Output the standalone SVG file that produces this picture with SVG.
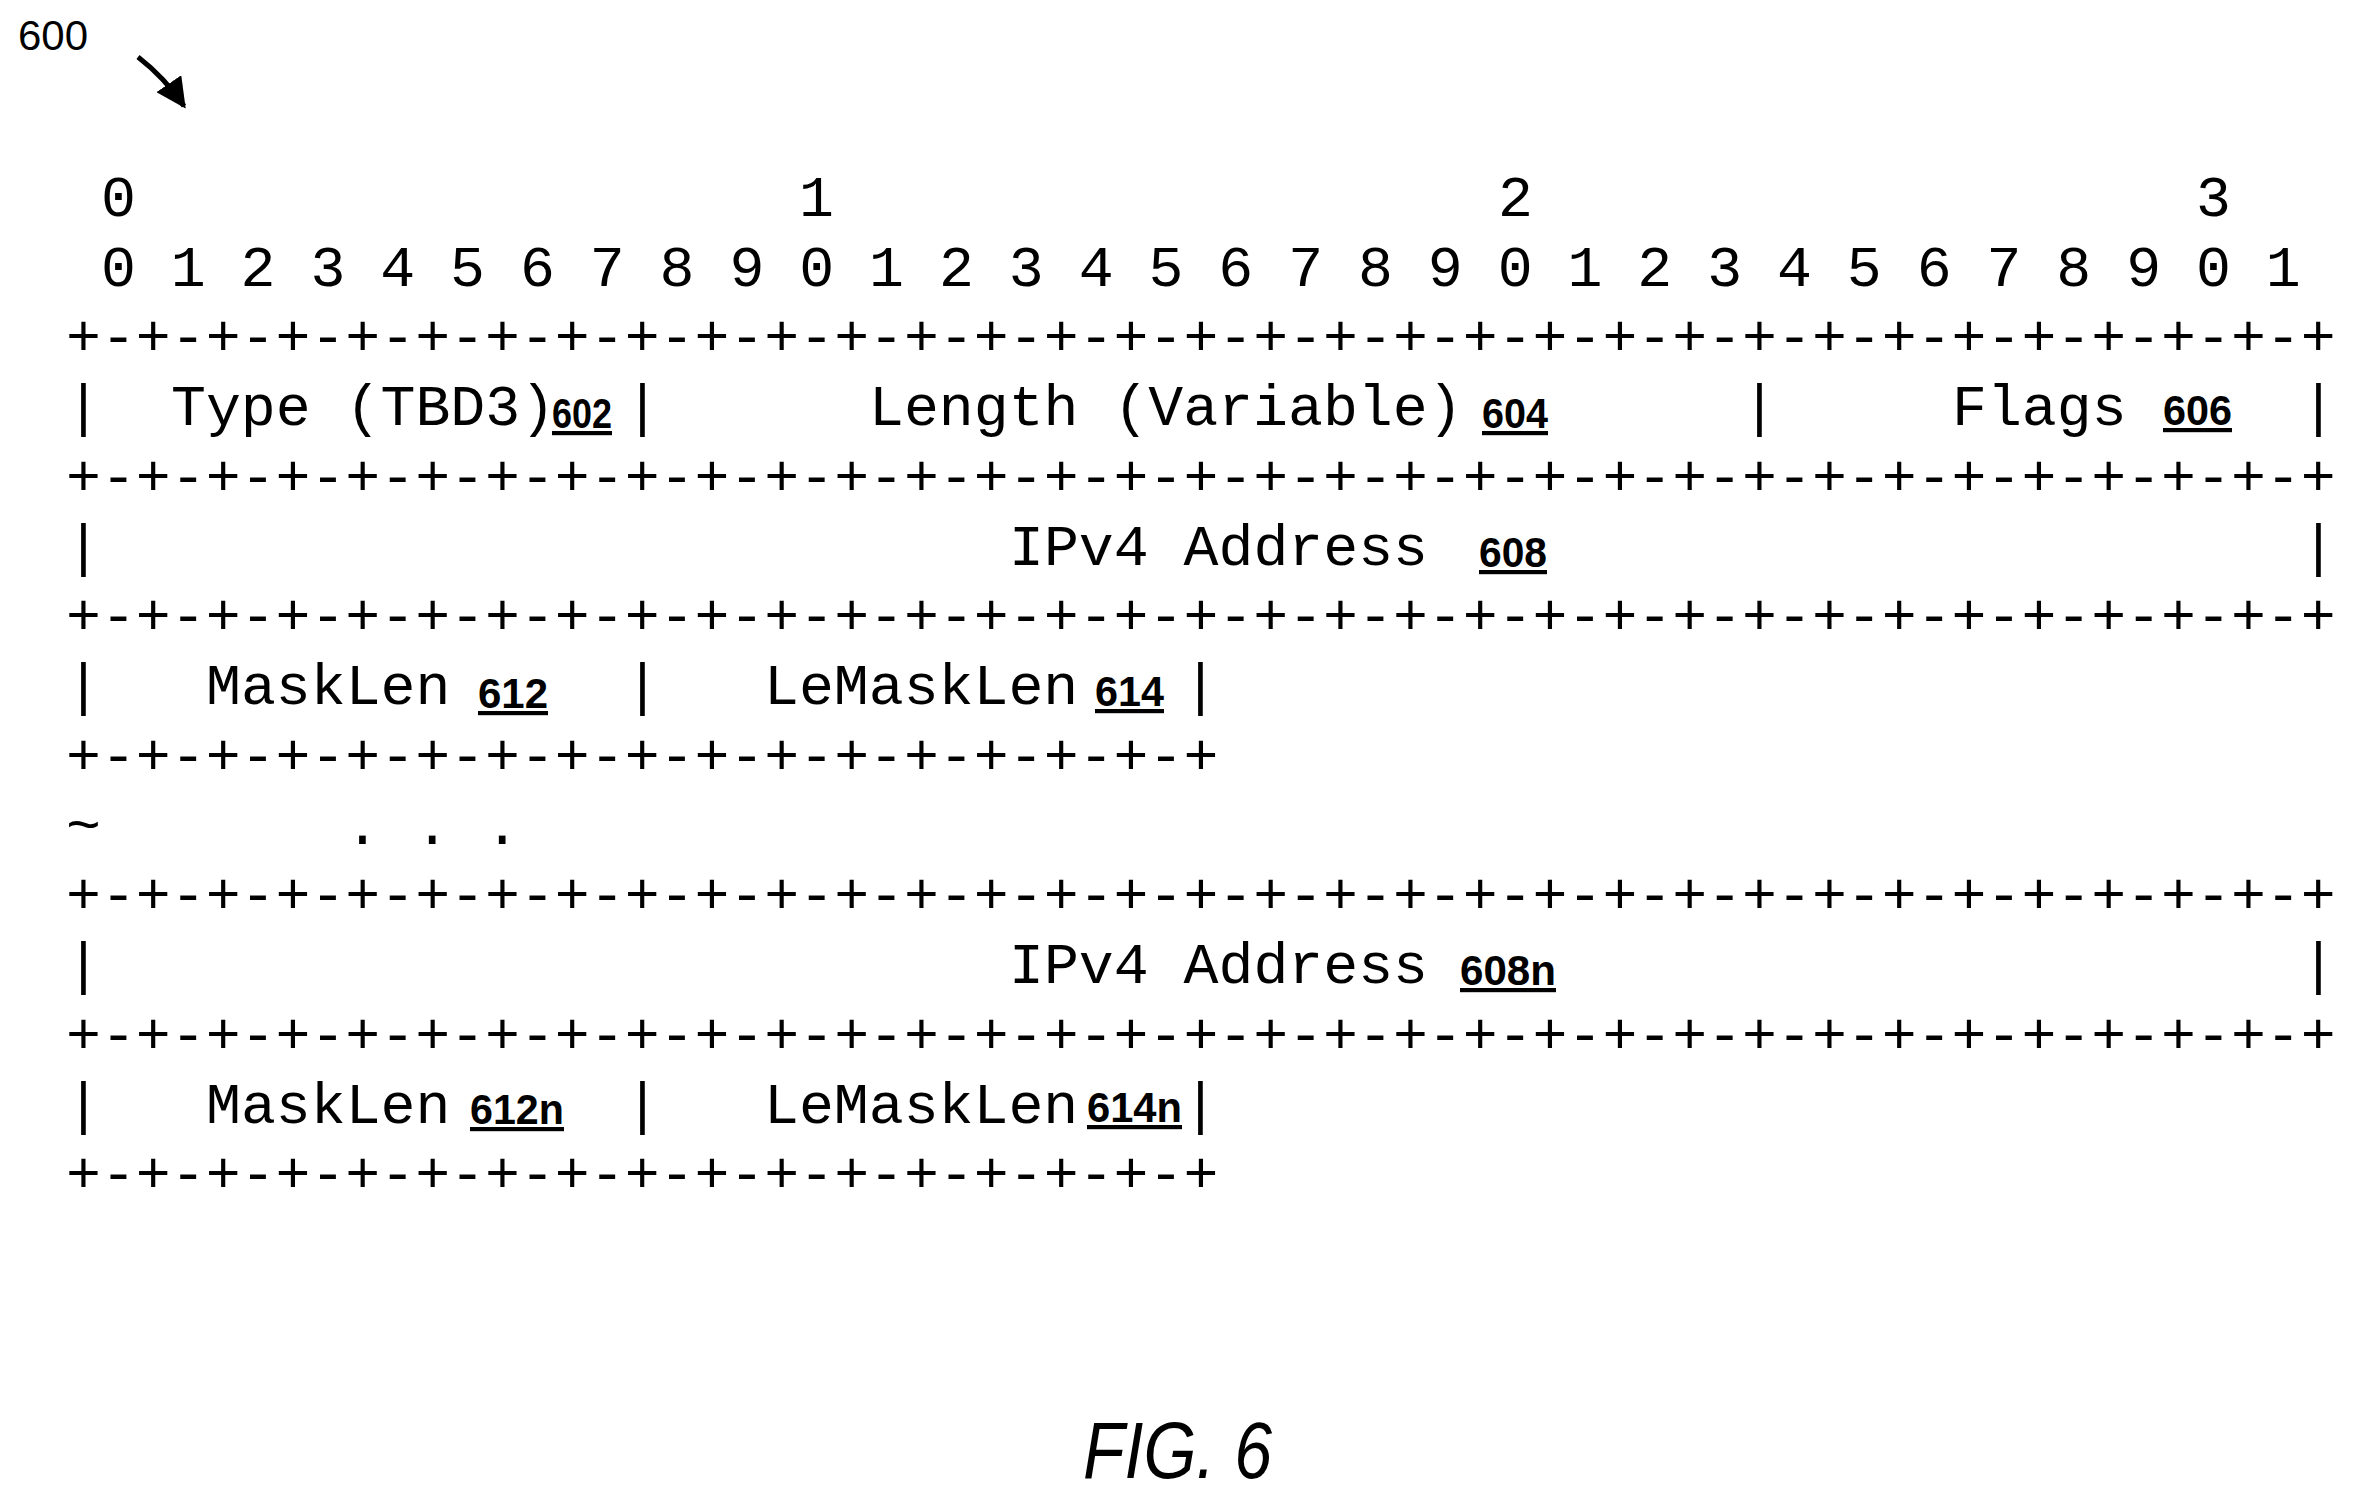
<svg xmlns="http://www.w3.org/2000/svg" width="2353" height="1501" viewBox="0 0 2353 1501">
<style>
.m{font-family:"Liberation Mono","Courier New",monospace;font-size:58.2px;fill:#000;white-space:pre}
.r{font-family:"Liberation Sans",Arial,sans-serif;font-weight:bold;font-size:42px;fill:#000;text-decoration:underline}
.t{font-family:"Liberation Sans",Arial,sans-serif;fill:#000}
</style>
<defs><marker id="ah" viewBox="0 0 10 10" refX="9" refY="5" markerWidth="6" markerHeight="6" orient="auto"><path d="M0,0L10,5L0,10z" fill="#000"/></marker></defs>
<rect width="2353" height="1501" fill="#fff"/>
<g id="ref600"><text class="t" x="18" y="50" font-size="42">600</text></g>
<g id="connectors"><path d="M138,57 Q165,78 184,106" fill="none" stroke="#000" stroke-width="5" marker-end="url(#ah)"/></g>
<g id="ruler">
<text class="m" x="101" y="216">0</text><text class="m" x="799" y="216">1</text><text class="m" x="1498" y="216">2</text><text class="m" x="2196" y="216">3</text>
<text class="m" x="66" y="286" xml:space="preserve"> 0 1 2 3 4 5 6 7 8 9 0 1 2 3 4 5 6 7 8 9 0 1 2 3 4 5 6 7 8 9 0 1</text>
</g>
<g id="borders">
<text class="m" x="66" y="355">+-+-+-+-+-+-+-+-+-+-+-+-+-+-+-+-+-+-+-+-+-+-+-+-+-+-+-+-+-+-+-+-+</text>
<text class="m" x="66" y="495">+-+-+-+-+-+-+-+-+-+-+-+-+-+-+-+-+-+-+-+-+-+-+-+-+-+-+-+-+-+-+-+-+</text>
<text class="m" x="66" y="634">+-+-+-+-+-+-+-+-+-+-+-+-+-+-+-+-+-+-+-+-+-+-+-+-+-+-+-+-+-+-+-+-+</text>
<text class="m" x="66" y="774">+-+-+-+-+-+-+-+-+-+-+-+-+-+-+-+-+</text>
<text class="m" x="66" y="913">+-+-+-+-+-+-+-+-+-+-+-+-+-+-+-+-+-+-+-+-+-+-+-+-+-+-+-+-+-+-+-+-+</text>
<text class="m" x="66" y="1053">+-+-+-+-+-+-+-+-+-+-+-+-+-+-+-+-+-+-+-+-+-+-+-+-+-+-+-+-+-+-+-+-+</text>
<text class="m" x="66" y="1192">+-+-+-+-+-+-+-+-+-+-+-+-+-+-+-+-+</text>
</g>
<g id="row1">
<text class="m" x="66" y="425">|</text><text class="m" x="171" y="425">Type (TBD3)</text><text class="m" x="625" y="425">|</text>
<text class="m" x="869" y="425">Length (Variable)</text><text class="m" x="1742" y="425">|</text>
<text class="m" x="1952" y="425">Flags</text><text class="m" x="2301" y="425">|</text>
<text class="r" x="552" y="428" textLength="60" lengthAdjust="spacingAndGlyphs">602</text>
<text class="r" x="1482" y="428" textLength="66" lengthAdjust="spacingAndGlyphs">604</text>
<text class="r" x="2163" y="425" textLength="69" lengthAdjust="spacingAndGlyphs">606</text>
</g>
<g id="row2">
<text class="m" x="66" y="565">|</text><text class="m" x="1009" y="565">IPv4 Address</text><text class="m" x="2301" y="565">|</text>
<text class="r" x="1479" y="567" textLength="68" lengthAdjust="spacingAndGlyphs">608</text>
</g>
<g id="row3">
<text class="m" x="66" y="704">|</text><text class="m" x="206" y="704">MaskLen</text><text class="m" x="625" y="704">|</text>
<text class="m" x="764" y="704">LeMaskLen</text><text class="m" x="1183" y="704">|</text>
<text class="r" x="478" y="708" textLength="70" lengthAdjust="spacingAndGlyphs">612</text>
<text class="r" x="1095" y="706" textLength="69" lengthAdjust="spacingAndGlyphs">614</text>
</g>
<g id="ellipsis"><text class="m" x="66" y="844">~</text><text class="m" x="345" y="844" xml:space="preserve">. . .</text></g>
<g id="row4">
<text class="m" x="66" y="983">|</text><text class="m" x="1009" y="983">IPv4 Address</text><text class="m" x="2301" y="983">|</text>
<text class="r" x="1460" y="985" textLength="96" lengthAdjust="spacingAndGlyphs">608n</text>
</g>
<g id="row5">
<text class="m" x="66" y="1123">|</text><text class="m" x="206" y="1123">MaskLen</text><text class="m" x="625" y="1123">|</text>
<text class="m" x="764" y="1123">LeMaskLen</text><text class="m" x="1183" y="1123">|</text>
<text class="r" x="470" y="1124" textLength="94" lengthAdjust="spacingAndGlyphs">612n</text>
<text class="r" x="1087" y="1122" textLength="95" lengthAdjust="spacingAndGlyphs">614n</text>
</g>
<g id="caption"><text class="t" x="1083" y="1478" font-size="80" font-style="italic" textLength="189" lengthAdjust="spacingAndGlyphs">FIG. 6</text></g>
</svg>
